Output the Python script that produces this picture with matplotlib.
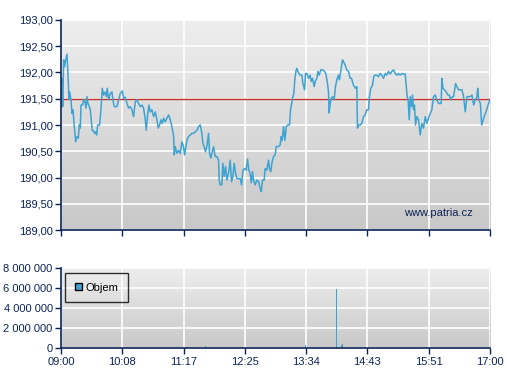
import numpy as np
import matplotlib
matplotlib.use("Agg")
import matplotlib.pyplot as plt
from matplotlib.colors import LinearSegmentedColormap

plt.rcParams['font.family'] = ['Liberation Sans', 'DejaVu Sans']

# minuty od 09:00 a cena
minuty = [0.0, 0.4, 0.7, 1.1, 1.9, 3.0, 4.1, 5.2, 6.7, 7.8, 8.9, 9.7, 11.2, 12.3, 13.4, 14.9,
          16.4, 17.9, 19.4, 20.5, 21.6, 22.4, 24.2, 25.3, 26.8, 28.0, 29.1, 30.2, 31.7, 32.8,
          33.9, 35.0, 36.5, 37.6, 38.8, 39.9, 41.0, 43.2, 44.7, 46.2, 47.7, 49.2, 50.7, 51.8,
          53.3, 55.2, 57.0, 58.1, 59.6, 62.6, 64.5, 66.3, 68.6, 70.1, 71.9, 73.8, 75.7, 77.5,
          79.4, 81.2, 83.1, 85.0, 86.8, 88.7, 90.6, 92.4, 94.3, 95.4, 96.9, 98.4, 99.9, 101.7,
          103.6, 105.5, 107.3, 108.8, 110.3, 111.8, 113.3, 114.8, 116.6, 118.5, 120.4, 122.2,
          124.1, 126.0, 126.7, 127.8, 129.7, 131.6, 133.4, 135.3, 137.1, 138.3, 139.8, 140.9,
          142.7, 144.6, 146.5, 148.3, 150.2, 152.1, 153.9, 155.8, 157.6, 158.8, 160.2, 161.7,
          163.2, 165.1, 166.2, 167.7, 169.2, 170.7, 172.5, 174.4, 176.3, 177.0, 178.1, 180.0,
          181.1, 182.6, 184.1, 185.6, 187.4, 189.3, 190.8, 192.3, 193.8, 195.3, 196.8, 198.6,
          200.5, 202.0, 203.5, 205.3, 207.2, 208.7, 210.2, 211.7, 212.8, 214.3, 215.4, 217.3,
          219.1, 221.0, 222.9, 224.0, 225.5, 227.3, 228.4, 230.3, 232.2, 233.3, 234.8, 235.9,
          237.8, 239.6, 240.8, 243.4, 245.2, 246.4, 247.5, 249.0, 250.5, 252.0, 253.8, 255.7,
          256.8, 258.3, 259.4, 260.5, 261.6, 262.8, 263.9, 265.0, 266.1, 267.6, 269.5, 270.6,
          272.5, 273.6, 275.1, 277.0, 278.8, 279.9, 281.4, 283.3, 284.4, 286.3, 287.4, 288.9,
          290.7, 293.0, 294.8, 296.3, 298.2, 299.3, 300.0, 301.2, 302.2, 304.1, 305.6, 307.1,
          308.6, 310.4, 311.5, 313.0, 314.9, 316.0, 317.9, 319.8, 321.7, 323.5, 325.0, 327.2,
          329.5, 331.0, 331.7, 332.8, 334.7, 336.5, 338.4, 340.3, 342.1, 344.0, 345.1, 346.6,
          348.5, 350.0, 351.5, 353.3, 355.2, 357.1, 358.9, 360.8, 362.7, 364.5, 366.4, 368.3,
          370.1, 372.0, 373.9, 375.7, 377.6, 379.5, 381.3, 383.2, 385.1, 386.2, 387.3, 388.4,
          389.6, 390.7, 392.2, 393.3, 394.4, 395.5, 396.7, 398.1, 400.0, 401.9, 403.7, 405.6,
          407.5, 409.3, 411.2, 413.1, 414.9, 416.8, 418.7, 420.5, 422.4, 424.3, 425.4, 426.1,
          427.3, 429.1, 431.0, 432.9, 434.4, 435.9, 437.7, 439.2, 441.5, 443.0, 444.8, 446.7,
          448.6, 450.4, 452.3, 454.2, 456.1, 457.9, 459.8, 461.7, 463.5, 465.4, 466.2, 467.3,
          469.2, 470.7, 472.9, 475.5, 477.8, 480.0]
cena = [191.86, 191.67, 191.35, 191.89, 191.35, 192.24, 192.11, 192.24, 192.35, 191.98, 191.48,
        191.63, 191.48, 191.22, 191.29, 190.97, 190.68, 190.78, 190.75, 191.00, 190.94, 191.38,
        191.38, 191.49, 191.44, 191.32, 191.54, 191.41, 191.35, 191.29, 191.10, 190.89, 190.89,
        190.84, 190.87, 190.81, 191.00, 191.00, 191.29, 191.70, 191.57, 191.63, 191.54, 191.70,
        191.48, 191.60, 191.63, 191.48, 191.35, 191.35, 191.48, 191.60, 191.65, 191.51, 191.53,
        191.41, 191.32, 191.35, 191.29, 191.16, 191.44, 191.48, 191.41, 191.35, 191.38, 191.32,
        191.10, 190.90, 191.19, 191.38, 191.25, 191.29, 191.16, 191.25, 191.10, 190.94, 191.00,
        191.10, 191.03, 191.13, 191.06, 191.13, 191.19, 191.10, 190.97, 190.78, 190.43, 190.59,
        190.46, 190.52, 190.46, 190.68, 190.59, 190.43, 190.59, 190.71, 190.78, 190.81, 190.84,
        190.84, 190.87, 190.90, 190.97, 191.00, 190.84, 190.65, 190.59, 190.49, 190.59, 190.84,
        190.46, 190.37, 190.49, 190.59, 190.40, 190.40, 190.33, 189.95, 189.86, 189.86, 190.27,
        190.02, 190.21, 189.95, 190.08, 190.33, 189.92, 190.02, 190.27, 190.08, 189.98, 189.98,
        189.98, 189.86, 190.14, 190.17, 190.14, 190.35, 190.14, 190.08, 189.90, 190.11, 189.95,
        189.86, 189.95, 189.92, 189.79, 189.73, 189.95, 189.95, 190.17, 190.14, 190.33, 190.17,
        190.11, 190.27, 190.40, 190.43, 190.59, 190.59, 190.62, 190.78, 190.71, 190.97, 190.71,
        190.97, 191.00, 191.00, 191.29, 191.44, 191.54, 191.60, 191.86, 192.02, 192.08, 192.02,
        191.98, 191.95, 191.95, 191.79, 191.67, 191.98, 191.98, 191.89, 191.95, 191.83, 191.89,
        191.73, 191.83, 191.89, 192.02, 191.95, 192.05, 192.05, 192.02, 191.98, 191.79, 191.63,
        191.23, 191.41, 191.51, 191.54, 191.48, 191.73, 191.86, 191.95, 191.86, 192.02, 192.24,
        192.21, 192.14, 192.05, 192.02, 191.89, 191.89, 191.76, 191.70, 191.73, 190.94, 191.00,
        191.00, 191.03, 191.16, 191.19, 191.29, 191.29, 191.54, 191.70, 191.76, 191.93, 191.95,
        191.95, 191.92, 191.98, 191.95, 191.89, 191.98, 191.95, 192.02, 191.97, 192.02, 192.05,
        191.98, 191.95, 191.98, 191.95, 191.98, 191.97, 191.97, 191.76, 191.54, 191.48, 191.10,
        191.54, 191.35, 191.57, 191.29, 191.38, 191.00, 191.16, 191.10, 190.81, 191.03, 190.94,
        191.16, 191.03, 191.13, 191.22, 191.29, 191.54, 191.57, 191.48, 191.41, 191.41, 191.41,
        191.89, 191.70, 191.67, 191.63, 191.57, 191.57, 191.48, 191.54, 191.54, 191.79, 191.73,
        191.67, 191.67, 191.67, 191.54, 191.25, 191.54, 191.54, 191.54, 191.57, 191.38, 191.48,
        191.54, 191.70, 191.48, 191.41, 191.00, 191.13, 191.25, 191.38, 191.48]
ref_cena = 191.50

# objem
objem_min = [161.7, 273.5, 286.6, 287.6, 308.2, 314.2, 315.3]
objem = [200000, 330000, 130000, 130000, 5930000, 330000, 430000]

x_labels = ["09:00", "10:08", "11:17", "12:25", "13:34", "14:43", "15:51", "17:00"]
y_labels = ["189,00", "189,50", "190,00", "190,50", "191,00", "191,50", "192,00", "192,50", "193,00"]
y_ticks = [189.0, 189.5, 190.0, 190.5, 191.0, 191.5, 192.0, 192.5, 193.0]
v_ticks = [0, 2000000, 4000000, 6000000, 8000000]
v_labels = ["0", "2 000 000", "4 000 000", "6 000 000", "8 000 000"]

navy = "#0d2357"
modra = "#3fa3d2"
x_ticks = np.linspace(0, 480, 8)

fig = plt.figure(figsize=(5.07, 3.80), dpi=100)
ax = fig.add_axes([0.1203, 0.3947, 0.8462, 0.5527])
ax2 = fig.add_axes([0.1203, 0.0833, 0.8462, 0.2106])

grad = np.linspace(0, 1, 256).reshape(-1, 1)
cmap = LinearSegmentedColormap.from_list("g", ["#eeeeee", "#c8c8c8"])


def styl(a, ymin, ymax):
    a.imshow(grad, cmap=cmap, aspect="auto", extent=[0, 480, ymin, ymax],
             origin="upper", zorder=0, interpolation="bilinear")
    a.set_xlim(0, 480)
    a.set_ylim(ymin, ymax)
    a.set_xticks(x_ticks)
    a.grid(True, color="white", lw=1.2, zorder=1)
    for s in ["top", "right"]:
        a.spines[s].set_visible(False)
    for s in ["left", "bottom"]:
        a.spines[s].set_color(navy)
        a.spines[s].set_linewidth(1.2)
        a.spines[s].set_zorder(5)
    a.tick_params(colors=navy, labelcolor=navy, labelsize=8, length=4, width=1, pad=2)


styl(ax, 189, 193)
ax.set_yticks(y_ticks)
ax.set_yticklabels(y_labels)
ax.set_xticklabels([])
ax.axhline(ref_cena, color="#c0302a", lw=1.0, zorder=2)
ax.plot(minuty, cena, color=modra, lw=1.1, zorder=3)
ax.text(0.96, 0.081, "www.patria.cz", transform=ax.transAxes, ha="right", va="center",
        color=navy, fontsize=8, zorder=4)

styl(ax2, 0, 8000000)
ax2.set_yticks(v_ticks)
ax2.set_yticklabels(v_labels)
ax2.set_xticklabels(x_labels)
ax2.bar(objem_min, objem, width=0.9, color=modra, zorder=3, label="Objem")
leg = ax2.legend(loc="upper left", bbox_to_anchor=(0.01, 0.94), fontsize=8, frameon=True,
                 fancybox=False, edgecolor="black", facecolor="none", handlelength=0.65,
                 handleheight=0.65, borderpad=0.85, handletextpad=0.35, borderaxespad=0)
leg.get_frame().set_linewidth(1.0)
leg.legend_handles[0].set_edgecolor("black")
leg.legend_handles[0].set_linewidth(1.0)

fig.savefig("out.png", dpi=100)
